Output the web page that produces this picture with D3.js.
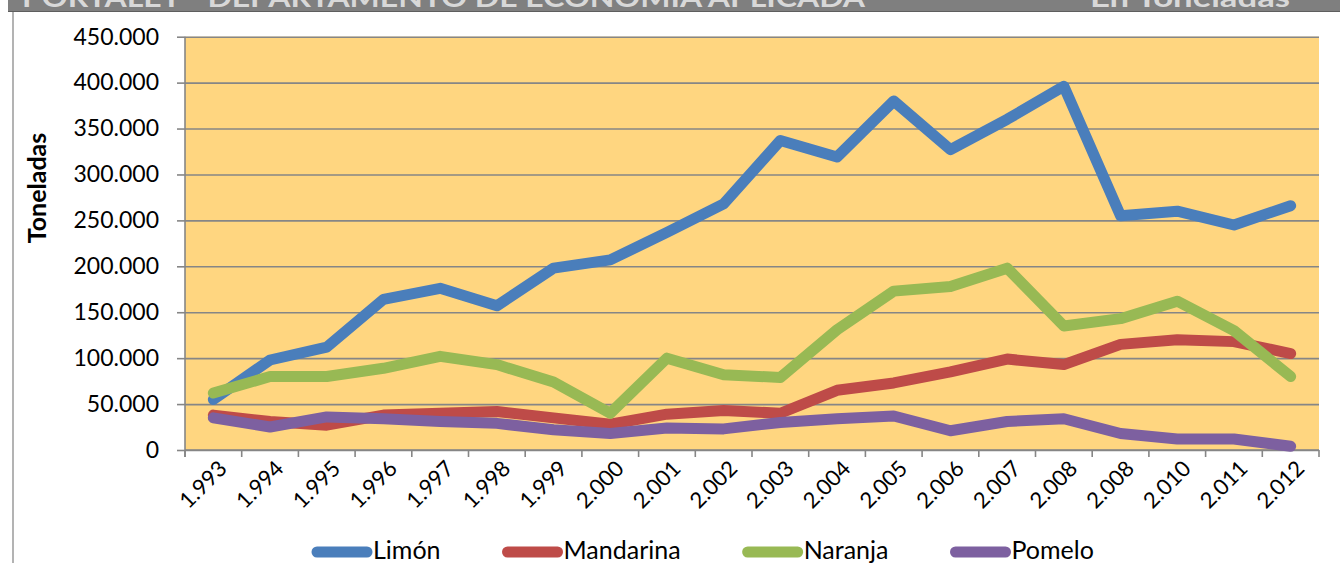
<!DOCTYPE html>
<html><head><meta charset="utf-8">
<script src="https://cdn.jsdelivr.net/npm/d3@7"></script>
<style>
html,body{margin:0;padding:0;background:#fff;overflow:hidden}
svg{display:block}
text{font-family:Lato,"Open Sans",sans-serif}
</style></head><body>
<svg id="c" width="1340" height="563"></svg>
<script>
// ---- data ----
const years = ["1.993","1.994","1.995","1.996","1.997","1.998","1.999","2.000","2.001","2.002",
               "2.003","2.004","2.005","2.006","2.007","2.008","2.008","2.010","2.011","2.012"];
const limon     = [55000, 98000,112000,164000,176000,157000,198000,207000,237000,268000,
                   337000,319000,380000,327000,360000,396000,255000,260000,245000,266000];
const mandarina = [38000, 31000, 27000, 38000, 40000, 42000, 35000, 28000, 39000, 43000,
                   40000, 65000, 73000, 85000, 99000, 93000,115000,120000,118000,105000];
const naranja   = [62000, 80000, 80000, 89000,102000, 93000, 74000, 40000,100000, 82000,
                   79000,131000,173000,178000,198000,135000,143000,162000,130000, 80000];
const pomelo    = [35000, 25000, 36000, 34000, 31000, 29000, 22000, 18000, 24000, 23000,
                   30000, 34000, 37000, 21000, 31000, 34000, 18000, 12000, 12000,  4000];
const seriesNames  = ["Limón","Mandarina","Naranja","Pomelo"];
const seriesColors = ["#4A7EBB","#BE4B48","#98B954","#7D60A0"];
const yTicks      = [0,50000,100000,150000,200000,250000,300000,350000,400000,450000];
const yTickLabels = ["0","50.000","100.000","150.000","200.000","250.000","300.000","350.000","400.000","450.000"];
const yTitle = "Toneladas";
const headerLeft = "PORTALET - DEPARTAMENTO DE ECONOMÍA APLICADA";
const headerRight = "En Toneladas";

// ---- layout ----
const svg = d3.select("#c");
const L = 185, R = 1319, T = 36.7, B = 450;
const x = d3.scaleBand().domain(d3.range(years.length)).range([L, R]).padding(0);
const y = d3.scaleLinear().domain([0, 450000]).range([B, T]);
const gridCol = "#868686";

// header bar
svg.append("rect").attr("x",8).attr("y",0).attr("width",1332).attr("height",12).attr("fill","#7f7f7f");
svg.append("clipPath").attr("id","hc").append("rect").attr("x",8).attr("y",0).attr("width",1332).attr("height",11);
const hg = svg.append("g").attr("clip-path","url(#hc)");
hg.append("text").attr("x",22).attr("y",7).attr("font-weight","bold").attr("font-size",26)
  .attr("fill","#d8d8d8").attr("textLength",843).attr("lengthAdjust","spacingAndGlyphs").text(headerLeft);
hg.append("text").attr("x",1090).attr("y",7).attr("font-weight","bold").attr("font-size",26)
  .attr("fill","#d8d8d8").attr("textLength",200).attr("lengthAdjust","spacingAndGlyphs").text(headerRight);
svg.append("line").attr("x1",8).attr("x2",1340).attr("y1",11.5).attr("y2",11.5).attr("stroke","#5e5e5e").attr("stroke-width",1);
// left border
svg.append("line").attr("x1",13).attr("x2",13).attr("y1",12).attr("y2",563).attr("stroke","#9a9a9a").attr("stroke-width",1.5);

// plot area
svg.append("rect").attr("x",L).attr("y",T).attr("width",R-L).attr("height",B-T).attr("fill","#FFD680");

// y axis with gridlines
const yAxis = d3.axisLeft(y).tickValues(yTicks).tickSize(8).tickPadding(18)
  .tickFormat((d,i)=>yTickLabels[i]);
const gy = svg.append("g").attr("transform",`translate(${L},0)`).call(yAxis);
gy.select(".domain").remove();
gy.selectAll(".tick line").attr("stroke",gridCol).attr("stroke-width",1.6).attr("x1",0).attr("x2",-8);
gy.selectAll(".tick").append("line").attr("x1",0).attr("x2",R-L).attr("stroke",gridCol).attr("stroke-width",1.6);
gy.selectAll(".tick text").attr("font-size",23).attr("fill","#000").attr("font-family","Lato");
svg.append("line").attr("x1",L).attr("x2",L).attr("y1",T).attr("y2",B+7).attr("stroke",gridCol).attr("stroke-width",1.6);

// x axis
const xAxis = d3.axisBottom(x).tickSize(0).tickPadding(0).tickFormat(i=>years[i]);
const gx = svg.append("g").attr("transform",`translate(0,${B})`).call(xAxis);
gx.select(".domain").remove();
gx.selectAll(".tick text").attr("font-size",22).attr("fill","#000").attr("font-family","Lato")
  .attr("text-anchor","end").attr("dy",0).attr("y",0)
  .attr("transform","translate(15,20) rotate(-45)");
svg.append("line").attr("x1",L).attr("x2",R).attr("y1",B).attr("y2",B).attr("stroke",gridCol).attr("stroke-width",1.6);
const bounds = d3.range(years.length).map(i=>x(i)).concat([x.range()[1]]);
svg.append("g").selectAll("line").data(bounds).join("line")
  .attr("x1",d=>d).attr("x2",d=>d).attr("y1",B).attr("y2",B+7).attr("stroke",gridCol).attr("stroke-width",1.6);

// y title
svg.append("text").attr("transform","translate(46,188) rotate(-90)").attr("text-anchor","middle")
  .attr("font-weight","bold").attr("font-size",25).attr("fill","#000").text(yTitle);

// lines
const series = [limon, mandarina, naranja, pomelo];
const line = d3.line().x((d,i)=>x(i)+x.bandwidth()/2).y(d=>y(d));
const lg = svg.append("g");
series.forEach((s,k)=>{
  lg.append("path").datum(s).attr("d",line).attr("fill","none")
    .attr("stroke",seriesColors[k]).attr("stroke-width",11)
    .attr("stroke-linejoin","round").attr("stroke-linecap","round");
});

// legend
const leg = svg.append("g");
let lx = 312;
seriesNames.forEach((n,k)=>{
  leg.append("line").attr("x1",lx+5).attr("x2",lx+55).attr("y1",552).attr("y2",552)
    .attr("stroke",seriesColors[k]).attr("stroke-width",11).attr("stroke-linecap","round");
  const t = leg.append("text").attr("x",lx+61).attr("y",559).attr("font-size",25).attr("fill","#000").text(n);
  lx = lx + 61 + t.node().getComputedTextLength() + 62;
});
</script>
</body></html>
